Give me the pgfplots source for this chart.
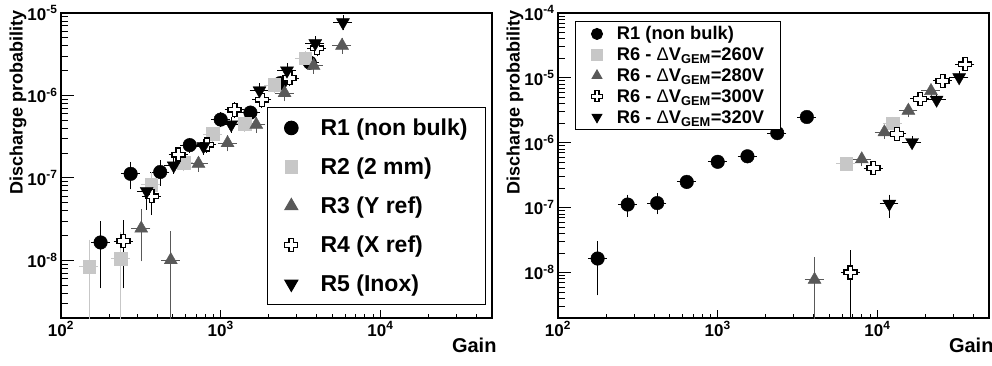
\documentclass[border=0pt]{standalone}
\usepackage{fontspec}
\setmainfont{Liberation Sans}
\usepackage{pgfplots}
\pgfplotsset{compat=1.18}
\usepackage{pgfplotstable}

\definecolor{lgray}{gray}{0.78}
\definecolor{dgray}{gray}{0.35}

\pgfdeclareplotmark{ocross}{%
  \pgfpathmoveto{\pgfqpoint{-0.36\pgfplotmarksize}{\pgfplotmarksize}}%
  \pgfpathlineto{\pgfqpoint{0.36\pgfplotmarksize}{\pgfplotmarksize}}%
  \pgfpathlineto{\pgfqpoint{0.36\pgfplotmarksize}{0.36\pgfplotmarksize}}%
  \pgfpathlineto{\pgfqpoint{\pgfplotmarksize}{0.36\pgfplotmarksize}}%
  \pgfpathlineto{\pgfqpoint{\pgfplotmarksize}{-0.36\pgfplotmarksize}}%
  \pgfpathlineto{\pgfqpoint{0.36\pgfplotmarksize}{-0.36\pgfplotmarksize}}%
  \pgfpathlineto{\pgfqpoint{0.36\pgfplotmarksize}{-\pgfplotmarksize}}%
  \pgfpathlineto{\pgfqpoint{-0.36\pgfplotmarksize}{-\pgfplotmarksize}}%
  \pgfpathlineto{\pgfqpoint{-0.36\pgfplotmarksize}{-0.36\pgfplotmarksize}}%
  \pgfpathlineto{\pgfqpoint{-\pgfplotmarksize}{-0.36\pgfplotmarksize}}%
  \pgfpathlineto{\pgfqpoint{-\pgfplotmarksize}{0.36\pgfplotmarksize}}%
  \pgfpathlineto{\pgfqpoint{-0.36\pgfplotmarksize}{0.36\pgfplotmarksize}}%
  \pgfpathclose
  \pgfusepathqfillstroke}

\pgfplotstableread{
x y ep em
177 1.65e-8 1.15e-8 1.16e-8
273 1.12e-7 0.34e-7 0.34e-7
418 1.18e-7 0.35e-7 0.32e-7
640 2.5e-7 0.35e-7 0.35e-7
1000 5.1e-7 0.7e-7 0.7e-7
1535 6.2e-7 0.8e-7 0.8e-7
2360 1.41e-6 0.18e-6 0.18e-6
3615 2.5e-6 0.3e-6 0.3e-6
}\Rone
\pgfplotstableread{
x y ep em
150 8.4e-9 0.83e-8 8.39e-9
237 1.05e-8 1.0e-8 1.049e-8
367 8.3e-8 2.7e-8 1.5e-8
585 1.52e-7 0.23e-7 0.23e-7
893 3.41e-7 0.5e-7 0.5e-7
1410 4.55e-7 0.65e-7 0.65e-7
2165 1.34e-6 0.2e-6 0.2e-6
3385 2.83e-6 0.4e-6 0.4e-6
}\Rtwo
\pgfplotstableread{
x y ep em
318 2.44e-8 1.5e-8 1.4e-8
487 1.01e-8 1.1e-8 1.009e-8
726 1.49e-7 0.22e-7 0.22e-7
1104 2.65e-7 0.4e-7 0.4e-7
1670 4.43e-7 0.65e-7 0.65e-7
2512 1.07e-6 0.16e-6 0.16e-6
3817 2.29e-6 0.33e-6 0.33e-6
5754 4.03e-6 0.6e-6 0.6e-6
}\Rthree
\pgfplotstableread{
x y ep em
246 1.72e-8 1.14e-8 1.23e-8
370 6.0e-8 2.2e-8 2.2e-8
544 1.92e-7 0.3e-7 0.3e-7
820 2.54e-7 0.38e-7 0.38e-7
1221 6.7e-7 1.0e-7 1.0e-7
1812 8.87e-7 1.3e-7 1.3e-7
2700 1.62e-6 0.24e-6 0.24e-6
4010 3.74e-6 0.55e-6 0.55e-6
}\Rfour
\pgfplotstableread{
x y ep em
344 6.9e-8 2.2e-8 2.5e-8
508 1.41e-7 0.21e-7 0.21e-7
780 2.41e-7 0.36e-7 0.36e-7
1164 4.43e-7 0.66e-7 0.66e-7
1750 1.15e-6 0.17e-6 0.17e-6
2601 2.0e-6 0.3e-6 0.3e-6
3910 4.3e-6 0.6e-6 0.6e-6
5830 7.7e-6 1.1e-6 1.1e-6
}\Rfive
\pgfplotstableread{
x y ep em
6370 4.75e-7 0.7e-7 0.7e-7
12470 2.01e-6 0.3e-6 0.3e-6
}\Rsixa
\pgfplotstableread{
x y ep em
4040 7.8e-9 0.8e-8 7.79e-9
7980 5.6e-7 0.8e-7 0.8e-7
11060 1.46e-6 0.2e-6 0.2e-6
15630 3.14e-6 0.45e-6 0.45e-6
21660 6.3e-6 0.9e-6 0.9e-6
}\Rsixb
\pgfplotstableread{
x y ep em
6780 1.01e-8 1.0e-8 1.009e-8
9440 4.08e-7 0.6e-7 0.6e-7
13280 1.37e-6 0.2e-6 0.2e-6
18560 4.75e-6 0.7e-6 0.7e-6
25600 9.0e-6 1.3e-6 1.3e-6
35500 1.62e-5 0.24e-5 0.24e-5
}\Rsixc
\pgfplotstableread{
x y ep em
11880 1.15e-7 0.31e-7 0.39e-7
16480 1.02e-6 0.15e-6 0.15e-6
23480 4.6e-6 0.7e-6 0.7e-6
32500 1.02e-5 0.15e-5 0.15e-5
}\Rsixd

\pgfplotsset{
  eb/.style={error bars/.cd, x dir=both, x explicit relative, y dir=both, y explicit,
    error bar style={line width=0.9pt}, error mark options={line width=0.9pt, mark size=2.5pt}},
}

\newcommand{\Fsev}{\fontsize{17}{17}\selectfont\bfseries}
\newcommand{\LL}{\hspace*{22pt}}
\newcommand{\RL}{\hspace*{14pt}}

\begin{document}
\begin{tikzpicture}
\path[use as bounding box] (0pt,0pt) rectangle (992pt,365pt);

\begin{axis}[at={(61pt,47pt)}, anchor=south west,
  xmode=log, ymode=log, scale only axis, width=431pt, height=305pt,
  xmin=100, xmax=50000, ymin=2e-9, ymax=1e-5,
  axis line style={line width=1.2pt},
  tick align=inside, xtick pos=bottom, ytick pos=left,
  major tick length=13pt, minor tick length=7pt,
  tick style={line width=0.9pt, black},
  every major x tick/.append style={/pgfplots/major tick length=8pt},
  every minor x tick/.append style={/pgfplots/minor tick length=4pt},
  xtick={100,1000,10000},
  xticklabels={10\textsuperscript{2},10\textsuperscript{3},10\textsuperscript{4}},
  minor xtick={200,300,400,500,600,700,800,900,2000,3000,4000,5000,6000,7000,8000,9000,20000,30000,40000},
  ytick={1e-8,1e-7,1e-6,1e-5},
  yticklabels={10\textsuperscript{-8},10\textsuperscript{-7},10\textsuperscript{-6},10\textsuperscript{-5}},
  minor ytick={3e-9,4e-9,5e-9,6e-9,7e-9,8e-9,9e-9,2e-8,3e-8,4e-8,5e-8,6e-8,7e-8,8e-8,9e-8,2e-7,3e-7,4e-7,5e-7,6e-7,7e-7,8e-7,9e-7,2e-6,3e-6,4e-6,5e-6,6e-6,7e-6,8e-6,9e-6},
  tick label style={font=\Fsev},
  xlabel={Gain}, ylabel={Discharge probability},
  xlabel style={font=\fontsize{20}{20}\selectfont\bfseries, at={(axis description cs:1,0)}, anchor=north east, xshift=8pt, yshift=-16pt},
  ylabel style={font=\fontsize{18}{18}\selectfont\bfseries, at={(axis description cs:-0.1,1.02)}, anchor=east},
  legend cell align=left,
  legend style={at={(0.478,0.692)}, anchor=north west, draw=black, line width=1pt,
    font=\fontsize{23}{25}\selectfont\bfseries, row sep=14pt, column sep=0pt,
    inner xsep=17pt, inner ysep=8pt,
    nodes={inner sep=0.5pt, text height=20pt, text depth=4pt}},
]
\addplot[only marks, black, mark=*, mark size=6.8pt, eb] table[x=x, y=y, x error expr=0.10, y error plus=ep, y error minus=em] {\Rone};
\addlegendentry{\LL R1 (non bulk)}
\addplot[only marks, lgray, mark=square*, mark size=6.3pt, eb] table[x=x, y=y, x error expr=0.10, y error plus=ep, y error minus=em] {\Rtwo};
\addlegendentry{\LL R2 (2 mm)}
\addplot[only marks, dgray, mark=triangle*, mark size=7.5pt, eb] table[x=x, y=y, x error expr=0.10, y error plus=ep, y error minus=em] {\Rthree};
\addlegendentry{\LL R3 (Y ref)}
\addplot[only marks, black, mark=ocross, mark size=6.5pt, mark options={fill=white, draw=black, line width=1.3pt}, eb] table[x=x, y=y, x error expr=0.10, y error plus=ep, y error minus=em] {\Rfour};
\addlegendentry{\LL R4 (X ref)}
\addplot[only marks, black, mark=triangle*, mark size=7.5pt, mark options={rotate=180}, eb] table[x=x, y=y, x error expr=0.10, y error plus=ep, y error minus=em] {\Rfive};
\addlegendentry{\LL R5 (Inox)}
\end{axis}

\begin{axis}[at={(558pt,47pt)}, anchor=south west,
  xmode=log, ymode=log, scale only axis, width=431pt, height=305pt,
  xmin=100, xmax=50000, ymin=2e-9, ymax=1e-4,
  axis line style={line width=1.2pt},
  tick align=inside, xtick pos=bottom, ytick pos=left,
  major tick length=13pt, minor tick length=7pt,
  tick style={line width=0.9pt, black},
  every major x tick/.append style={/pgfplots/major tick length=8pt},
  every minor x tick/.append style={/pgfplots/minor tick length=4pt},
  xtick={100,1000,10000},
  xticklabels={10\textsuperscript{2},10\textsuperscript{3},10\textsuperscript{4}},
  minor xtick={200,300,400,500,600,700,800,900,2000,3000,4000,5000,6000,7000,8000,9000,20000,30000,40000},
  ytick={1e-8,1e-7,1e-6,1e-5,1e-4},
  yticklabels={10\textsuperscript{-8},10\textsuperscript{-7},10\textsuperscript{-6},10\textsuperscript{-5},10\textsuperscript{-4}},
  minor ytick={3e-9,4e-9,5e-9,6e-9,7e-9,8e-9,9e-9,2e-8,3e-8,4e-8,5e-8,6e-8,7e-8,8e-8,9e-8,2e-7,3e-7,4e-7,5e-7,6e-7,7e-7,8e-7,9e-7,2e-6,3e-6,4e-6,5e-6,6e-6,7e-6,8e-6,9e-6,2e-5,3e-5,4e-5,5e-5,6e-5,7e-5,8e-5,9e-5},
  tick label style={font=\Fsev},
  xlabel={Gain}, ylabel={Discharge probability},
  xlabel style={font=\fontsize{20}{20}\selectfont\bfseries, at={(axis description cs:1,0)}, anchor=north east, xshift=8pt, yshift=-16pt},
  ylabel style={font=\fontsize{18}{18}\selectfont\bfseries, at={(axis description cs:-0.1,1.02)}, anchor=east},
  legend cell align=left,
  legend image post style={mark size=5.5pt},
  legend style={at={(0.0394,0.974)}, anchor=north west, draw=black, line width=1pt,
    font=\fontsize{18.3}{20}\selectfont\bfseries, row sep=1.8pt, column sep=0pt,
    inner xsep=16pt, inner ysep=3pt,
    nodes={inner sep=0.5pt, text height=15pt, text depth=3pt}},
]
\addplot[only marks, black, mark=*, mark size=6.8pt, eb] table[x=x, y=y, x error expr=0.10, y error plus=ep, y error minus=em] {\Rone};
\addlegendentry{\RL R1 (non bulk)}
\addplot[only marks, lgray, mark=square*, mark size=6.3pt, eb] table[x=x, y=y, x error expr=0.10, y error plus=ep, y error minus=em] {\Rsixa};
\addlegendentry{\RL R6 - {\mdseries Δ}V\textsubscript{GEM}=260V}
\addplot[only marks, dgray, mark=triangle*, mark size=7.5pt, eb] table[x=x, y=y, x error expr=0.10, y error plus=ep, y error minus=em] {\Rsixb};
\addlegendentry{\RL R6 - {\mdseries Δ}V\textsubscript{GEM}=280V}
\addplot[only marks, black, mark=ocross, mark size=6.5pt, mark options={fill=white, draw=black, line width=1.3pt}, eb] table[x=x, y=y, x error expr=0.10, y error plus=ep, y error minus=em] {\Rsixc};
\addlegendentry{\RL R6 - {\mdseries Δ}V\textsubscript{GEM}=300V}
\addplot[only marks, black, mark=triangle*, mark size=7.5pt, mark options={rotate=180}, eb] table[x=x, y=y, x error expr=0.10, y error plus=ep, y error minus=em] {\Rsixd};
\addlegendentry{\RL R6 - {\mdseries Δ}V\textsubscript{GEM}=320V}
\end{axis}
\end{tikzpicture}
\end{document}
